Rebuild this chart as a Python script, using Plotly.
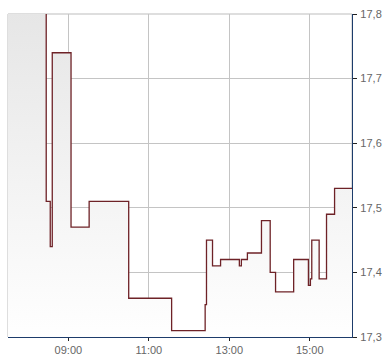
import plotly.graph_objects as go

day = "2024-01-02 "
axis_start = "07:30"
axis_end = "16:03"
prev_value = 17.9

times = ["08:27", "08:33", "08:36", "09:04", "09:31", "10:30", "11:34", "12:24",
         "12:26", "12:35", "12:47", "13:15", "13:18", "13:27", "13:48", "14:01",
         "14:09", "14:36", "14:58", "15:01", "15:03", "15:14", "15:25", "15:37",
         "16:05"]
prices = [17.51, 17.44, 17.74, 17.47, 17.51, 17.36, 17.31, 17.35,
          17.45, 17.41, 17.42, 17.41, 17.42, 17.43, 17.48, 17.40,
          17.37, 17.42, 17.38, 17.39, 17.45, 17.39, 17.49, 17.53,
          17.53]

x_ticks = ["09:00", "11:00", "13:00", "15:00"]
y_ticks = [17.3, 17.4, 17.5, 17.6, 17.7, 17.8]

xs = [day + axis_start] + [day + t for t in times]
ys = [prev_value] + prices

fig = go.Figure()
fig.add_trace(go.Scatter(
    x=xs, y=ys, mode="lines", line=dict(shape="hv", color="#6e2227", width=1.3),
    fill="tozeroy",
    fillgradient=dict(type="vertical", start=17.3, stop=17.8,
                      colorscale=[[0, "#ffffff"], [1, "#e6e6e6"]]),
    hoverinfo="skip", showlegend=False,
))

font = dict(family="Liberation Sans, Arial, sans-serif", size=11, color="#666666")
fig.update_layout(
    width=390, height=364,
    margin=dict(l=8, r=38, t=11, b=24),
    paper_bgcolor="white", plot_bgcolor="white",
    separators=",.",
    font=font,
    showlegend=False,
    shapes=[dict(type="rect", xref="paper", yref="paper", x0=0, x1=1, y0=0, y1=1,
                 line=dict(color="#bdbdbd", width=1), layer="below")],
    xaxis=dict(
        type="date", range=[day + axis_start, day + axis_end],
        tickvals=[day + t for t in x_ticks], ticktext=x_ticks,
        showgrid=True, gridcolor="#c4c4c4", gridwidth=1,
        showline=True, linecolor="#1d3c6b", linewidth=1.3,
        ticks="outside", ticklen=3, tickcolor="#222222", tickwidth=1,
        zeroline=False, tickfont=font,
    ),
    yaxis=dict(
        side="right", range=[17.3, 17.8],
        tickvals=y_ticks, tickformat=".1f",
        showgrid=True, gridcolor="#c4c4c4", gridwidth=1,
        showline=True, linecolor="#1d3c6b", linewidth=1.3,
        ticks="outside", ticklen=4, tickcolor="#222222", tickwidth=1,
        ticklabelstandoff=1,
        zeroline=False, tickfont=font,
    ),
)

fig.write_html("out.html")
